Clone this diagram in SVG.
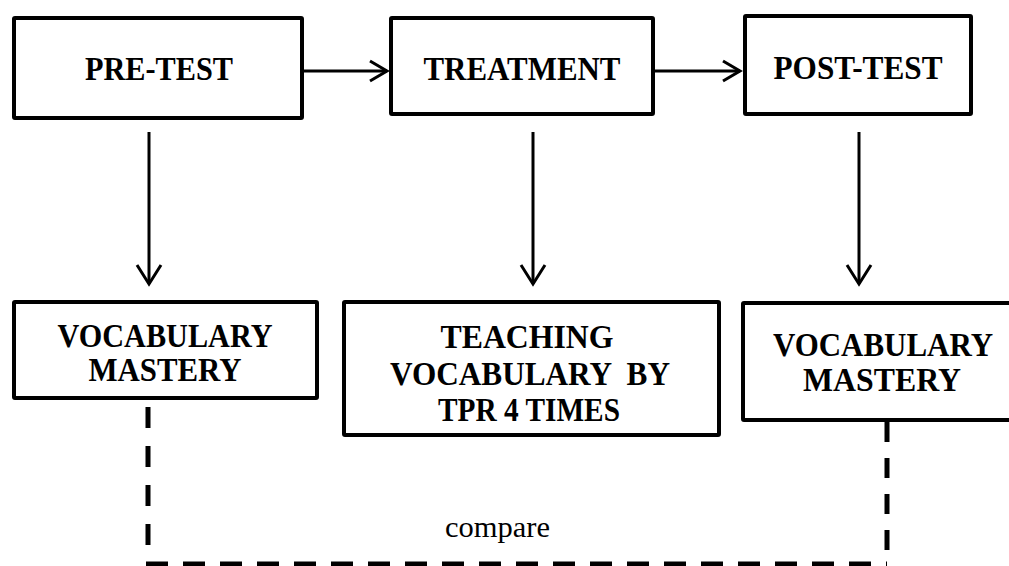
<svg xmlns="http://www.w3.org/2000/svg" width="1009" height="566" viewBox="0 0 1009 566">
<style>
.box{fill:#fff;stroke:#000;stroke-width:4;}
.lbl{font-family:"Liberation Serif","Times New Roman",serif;font-weight:bold;font-size:34px;fill:#000;text-anchor:middle;}
.ln{stroke:#000;stroke-width:3;fill:none;}
.dash{stroke:#000;stroke-width:5;fill:none;}
.cmp{font-family:"Liberation Serif","Times New Roman",serif;font-size:29px;fill:#000;}
</style>
<rect width="1009" height="566" fill="#fff"/>
<g id="pre-test">
<rect class="box" x="14" y="18" width="288" height="100" rx="1"/>
<text class="lbl" x="159" y="80" textLength="148" lengthAdjust="spacingAndGlyphs">PRE-TEST</text>
</g>
<g id="treatment">
<rect class="box" x="391" y="18" width="262" height="96" rx="1"/>
<text class="lbl" x="522" y="80" textLength="197" lengthAdjust="spacingAndGlyphs">TREATMENT</text>
</g>
<g id="post-test">
<rect class="box" x="745" y="16" width="226" height="98" rx="1"/>
<text class="lbl" x="858" y="79" textLength="169" lengthAdjust="spacingAndGlyphs">POST-TEST</text>
</g>
<g id="vocab-pre">
<rect class="box" x="14" y="302" width="303" height="96" rx="1"/>
<text class="lbl" x="165" y="347" textLength="215" lengthAdjust="spacingAndGlyphs">VOCABULARY</text>
<text class="lbl" x="165" y="381" textLength="153" lengthAdjust="spacingAndGlyphs">MASTERY</text>
</g>
<g id="teaching">
<rect class="box" x="344" y="302" width="375" height="133" rx="1"/>
<text class="lbl" x="527" y="348" textLength="173" lengthAdjust="spacingAndGlyphs">TEACHING</text>
<text class="lbl" x="530" y="385" textLength="280" lengthAdjust="spacingAndGlyphs" xml:space="preserve">VOCABULARY  BY</text>
<text class="lbl" x="529" y="421" textLength="182" lengthAdjust="spacingAndGlyphs">TPR 4 TIMES</text>
</g>
<g id="vocab-post">
<rect class="box" x="743" y="303" width="300" height="117" rx="1"/>
<text class="lbl" x="883" y="356" textLength="220" lengthAdjust="spacingAndGlyphs">VOCABULARY</text>
<text class="lbl" x="882" y="391" textLength="158" lengthAdjust="spacingAndGlyphs">MASTERY</text>
</g>
<g id="connectors">
<line class="ln" x1="304" y1="71" x2="387" y2="71"/>
<polyline class="ln" points="370,61 387,71 370,81"/>
<line class="ln" x1="655" y1="71" x2="740" y2="71"/>
<polyline class="ln" points="723,61 740,71 723,81"/>
<line class="ln" x1="149" y1="132" x2="149" y2="284"/>
<polyline class="ln" points="137,265 149,284 161,265"/>
<line class="ln" x1="533" y1="132" x2="533" y2="284"/>
<polyline class="ln" points="521,265 533,284 545,265"/>
<line class="ln" x1="859" y1="132" x2="859" y2="284"/>
<polyline class="ln" points="847,265 859,284 871,265"/>
<line class="dash" x1="148" y1="407" x2="148" y2="563" style="stroke-dasharray:21 18"/>
<line class="dash" x1="146" y1="564" x2="887" y2="564" style="stroke-dasharray:22 15"/>
<line class="dash" x1="887" y1="422" x2="887" y2="554" style="stroke-dasharray:20 16"/>
<text class="cmp" x="445" y="537" textLength="105" lengthAdjust="spacingAndGlyphs">compare</text>
</g>
</svg>
